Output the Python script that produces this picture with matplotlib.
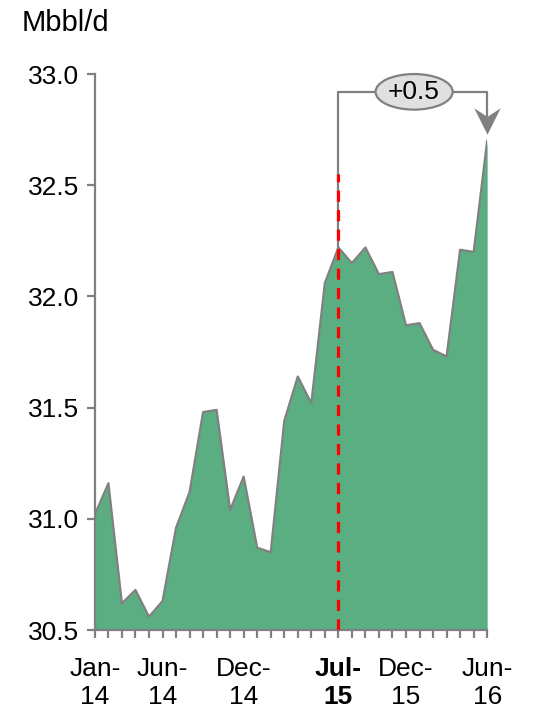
import matplotlib.pyplot as plt
from matplotlib.patches import Ellipse
from matplotlib.path import Path
import numpy as np

plt.rcParams['font.family'] = ['Liberation Sans', 'DejaVu Sans']

months = ['Jan-14', 'Feb-14', 'Mar-14', 'Apr-14', 'May-14', 'Jun-14',
          'Jul-14', 'Aug-14', 'Sep-14', 'Oct-14', 'Nov-14', 'Dec-14',
          'Jan-15', 'Feb-15', 'Mar-15', 'Apr-15', 'May-15', 'Jun-15',
          'Jul-15', 'Aug-15', 'Sep-15', 'Oct-15', 'Nov-15', 'Dec-15',
          'Jan-16', 'Feb-16', 'Mar-16', 'Apr-16', 'May-16', 'Jun-16']
output = [31.02, 31.16, 30.62, 30.68, 30.56, 30.63,
          30.96, 31.12, 31.48, 31.49, 31.04, 31.19,
          30.87, 30.85, 31.44, 31.64, 31.52, 32.06,
          32.22, 32.15, 32.22, 32.10, 32.11, 31.87,
          31.88, 31.76, 31.73, 32.21, 32.20, 32.70]
shown = ['Jan-14', 'Jun-14', 'Dec-14', 'Jul-15', 'Dec-15', 'Jun-16']
change_label = '+0.5'

grey = '#808080'
green = '#5aae82'

x = np.arange(len(months))
fig = plt.figure(figsize=(5.33, 7.14), dpi=100)
ax = fig.add_axes([0.178, 0.1176, 0.736, 0.7787])

ax.fill_between(x, 30.5, output, color=green, lw=0)
ax.plot(x, output, color=grey, lw=1.6)

ax.set_xlim(0, len(months) - 1)
ax.set_ylim(30.5, 33.0)
ax.set_yticks([30.5, 31.0, 31.5, 32.0, 32.5, 33.0])
ax.set_yticklabels(['%.1f' % v for v in ax.get_yticks()], fontsize=19)

ax.set_xticks(x)
labels = [m.replace('-', '-\n') if m in shown else '' for m in months]
ax.set_xticklabels(labels, fontsize=19, linespacing=1.2)
jul = months.index('Jul-15')
ax.get_xticklabels()[jul].set_fontweight('bold')

for s in ['top', 'right']:
    ax.spines[s].set_visible(False)
for s in ['left', 'bottom']:
    ax.spines[s].set_color(grey)
    ax.spines[s].set_linewidth(1.6)
ax.tick_params(colors=grey, width=1.6, length=5.5, labelcolor='black')
ax.tick_params(axis='x', pad=14)
ax.tick_params(axis='y', pad=6)

# bracket showing change from Jul-15 to Jun-16
end = len(months) - 1
top = 32.92
ax.plot([jul, jul, end, end], [output[jul], top, top, 32.8],
        color=grey, lw=1.6, clip_on=False, zorder=3)
chevron = Path([(0, -1), (-1, 1), (0, 0.35), (1, 1), (0, -1)],
               [Path.MOVETO, Path.LINETO, Path.LINETO, Path.LINETO,
                Path.CLOSEPOLY])
ax.plot([end], [32.79], marker=chevron, ms=19, color=grey, mew=0,
        clip_on=False, zorder=3)
ax.plot([jul, jul], [30.5, 32.55], color='#ff0000', lw=2.3,
        ls=(0, (3.5, 2.6)), zorder=4)
ax.add_patch(Ellipse((23.6, top), 5.7, 0.16, facecolor='#e0e0e0',
                     edgecolor=grey, lw=1.6, zorder=5, clip_on=False))
ax.text(23.6, top, change_label, ha='center', va='center', fontsize=19,
        zorder=6)

fig.text(0.04, 0.968, 'Mbbl/d', fontsize=21, va='center')

fig.savefig('out.png', dpi=100)
